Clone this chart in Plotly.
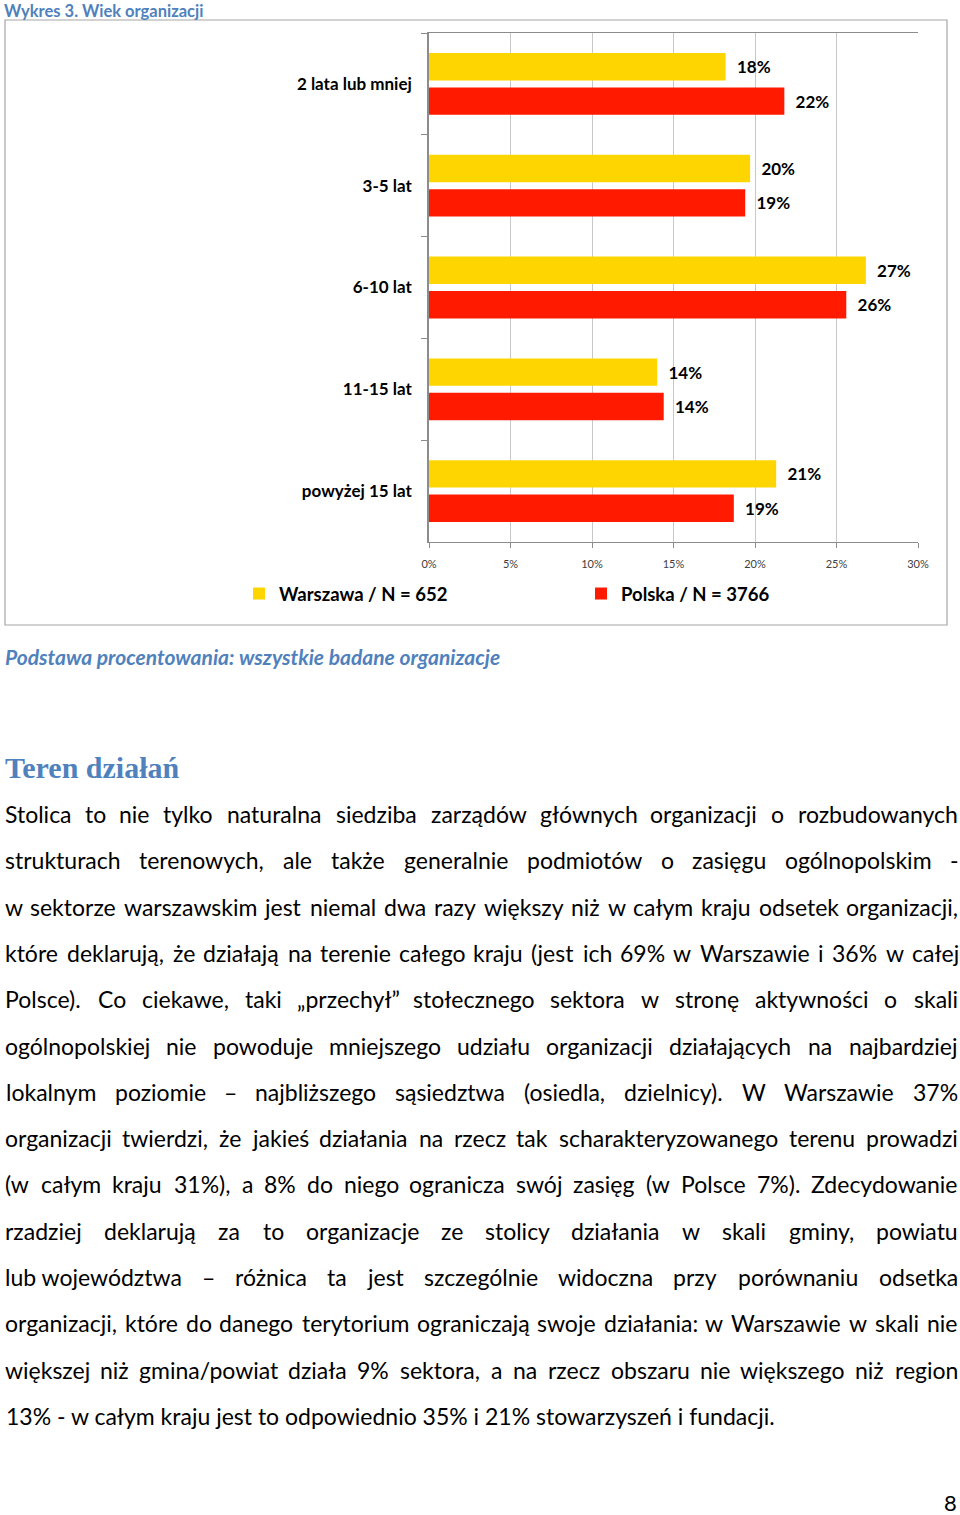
import plotly.graph_objects as go

# ---------------- data ----------------
categories = ["2 lata lub mniej", "3-5 lat", "6-10 lat", "11-15 lat", "powyżej 15 lat"]
warszawa = [18.2, 19.7, 26.8, 14.0, 21.3]
polska = [21.8, 19.4, 25.6, 14.4, 18.7]
warszawa_labels = ["18%", "20%", "27%", "14%", "21%"]
polska_labels = ["22%", "19%", "26%", "14%", "19%"]
series_names = ["Warszawa / N = 652", "Polska / N = 3766"]
x_tick_values = [0, 5, 10, 15, 20, 25, 30]
x_tick_labels = ["0%", "5%", "10%", "15%", "20%", "25%", "30%"]

chart_title = "Wykres 3. Wiek organizacji"
base_note = "Podstawa procentowania: wszystkie badane organizacje"
section_title = "Teren działań"
page_number = "8"
body_lines = [
    "Stolica to nie tylko naturalna siedziba zarządów głównych organizacji o rozbudowanych",
    "strukturach terenowych, ale także generalnie podmiotów o zasięgu ogólnopolskim -",
    "w sektorze warszawskim jest niemal dwa razy większy niż w całym kraju odsetek organizacji,",
    "które deklarują, że działają na terenie całego kraju (jest ich 69% w Warszawie i 36% w całej",
    "Polsce). Co ciekawe, taki „przechył” stołecznego sektora w stronę aktywności o skali",
    "ogólnopolskiej nie powoduje mniejszego udziału organizacji działających na najbardziej",
    "lokalnym poziomie – najbliższego sąsiedztwa (osiedla, dzielnicy). W Warszawie 37%",
    "organizacji twierdzi, że jakieś działania na rzecz tak scharakteryzowanego terenu prowadzi",
    "(w całym kraju 31%), a 8% do niego ogranicza swój zasięg (w Polsce 7%). Zdecydowanie",
    "rzadziej deklarują za to organizacje ze stolicy działania w skali gminy, powiatu",
    "lub\u00a0województwa – różnica ta jest szczególnie widoczna przy porównaniu odsetka",
    "organizacji, które do danego terytorium ograniczają swoje działania: w Warszawie w skali nie",
    "większej niż gmina/powiat działa 9% sektora, a na rzecz obszaru nie większego niż region",
    "13% - w całym kraju jest to odpowiednio 35% i 21% stowarzyszeń i fundacji.",
]

# ---------------- layout helpers ----------------
W, H = 960, 1515
L, R, T, B = 429, 918, 33, 542


def px_x(x):
    return (x - L) / (R - L)


def px_y(y):
    return 1 - (y - T) / (B - T)


YELLOW = "#FFD500"
RED = "#FF1A00"
BLUE = "#4F81BD"
BODY_FONT = "Lato"
BODY_SIZE = 23

# approximate Lato Regular advance widths (em)
CW = {
    'a': .51, 'b': .56, 'c': .46, 'd': .56, 'e': .52, 'f': .32, 'g': .50, 'h': .56, 'i': .24,
    'j': .24, 'k': .51, 'l': .24, 'm': .84, 'n': .56, 'o': .56, 'p': .56, 'q': .56, 'r': .37,
    's': .43, 't': .35, 'u': .56, 'v': .51, 'w': .77, 'x': .49, 'y': .51, 'z': .45, 'ł': .27,
    'ą': .51, 'ę': .52, 'ó': .56, 'ś': .43, 'ć': .46, 'ń': .56, 'ź': .45, 'ż': .45,
    'S': .52, 'W': 1.0, 'Z': .6, 'C': .66, 'P': .58, 'T': .57,
    '0': .58, '1': .58, '2': .58, '3': .58, '4': .58, '5': .58, '6': .58, '7': .58, '8': .58, '9': .58,
    '%': .80, ' ': .26, '\u00a0': .26, ',': .22, '.': .22, '(': .31, ')': .31, '-': .34, '–': .5,
    ':': .24, '/': .37, '„': .33, '”': .33,
}


def text_w(s, size=BODY_SIZE):
    return sum(CW.get(ch, 0.62) for ch in s) * size


fig = go.Figure()
for vals, labels, name, color in [
    (warszawa, warszawa_labels, series_names[0], YELLOW),
    (polska, polska_labels, series_names[1], RED),
]:
    fig.add_trace(go.Bar(
        y=categories, x=vals, name=name, orientation="h",
        marker=dict(color=color, line=dict(width=0)),
        text=labels, texttemplate="\u00a0\u00a0%{text}", textposition="outside",
        textfont=dict(family="Lato", size=17, color="black", weight="bold"),
        constraintext="none", cliponaxis=False, hoverinfo="skip",
    ))

annotations = []
annotations.append(dict(
    x=px_x(3), y=px_y(0), xref="paper", yref="paper", xanchor="left", yanchor="top",
    text=chart_title, showarrow=False, borderpad=0,
    font=dict(family="Lato", size=16.5, color=BLUE, weight="bold")))
annotations.append(dict(
    x=px_x(3), y=px_y(656), xref="paper", yref="paper", xanchor="left", yanchor="middle",
    text="<i>" + base_note + "</i>", showarrow=False,
    font=dict(family="Lato", size=21, color=BLUE, weight="bold")))
annotations.append(dict(
    x=px_x(3), y=px_y(767), xref="paper", yref="paper", xanchor="left", yanchor="middle",
    text=section_title, showarrow=False,
    font=dict(family="Liberation Serif", size=30, color=BLUE, weight="bold")))
annotations.append(dict(
    x=px_x(950), y=px_y(1502), xref="paper", yref="paper", xanchor="center", yanchor="middle",
    text=page_number, showarrow=False,
    font=dict(family=BODY_FONT, size=22, color="black")))

# body text: justified lines built word by word
line_y0, line_step = 814, 46.3
left_edge, right_edge = 5, 958
for i, line in enumerate(body_lines):
    ypx = line_y0 + i * line_step
    if i == len(body_lines) - 1:
        annotations.append(dict(
            x=px_x(left_edge - 1), y=px_y(ypx), xref="paper", yref="paper",
            xanchor="left", yanchor="middle", text=line, showarrow=False,
            font=dict(family=BODY_FONT, size=BODY_SIZE, color="black")))
        continue
    words = [w for w in line.split(" ") if w]
    widths = [text_w(w) for w in words]
    gap = (right_edge - left_edge - sum(widths)) / (len(words) - 1)
    cur = left_edge
    for w, wd in zip(words, widths):
        annotations.append(dict(
            x=px_x(cur + wd / 2), y=px_y(ypx), xref="paper", yref="paper",
            xanchor="center", yanchor="middle", text=w, showarrow=False,
            font=dict(family=BODY_FONT, size=BODY_SIZE, color="black")))
        cur += wd + gap

shapes = [dict(
    type="rect", xref="paper", yref="paper",
    x0=px_x(5), x1=px_x(947), y0=px_y(20), y1=px_y(625),
    line=dict(color="#A6A6A6", width=1.2), fillcolor="rgba(0,0,0,0)", layer="below")]

fig.update_layout(
    width=W, height=H,
    margin=dict(l=L, r=W - R, t=T, b=H - B, pad=0),
    paper_bgcolor="white", plot_bgcolor="white",
    barmode="group", bargap=0.324, bargroupgap=0.203,
    font=dict(family="Lato", color="black"),
    showlegend=True,
    legend=dict(
        orientation="h", x=px_x(239), xanchor="left", y=px_y(594), yanchor="middle",
        entrywidth=297, entrywidthmode="pixels", itemwidth=30,
        font=dict(family="Lato", size=18.5, color="black", weight="bold"),
        bgcolor="rgba(0,0,0,0)", traceorder="normal", itemclick=False),
    annotations=annotations,
    shapes=shapes,
    xaxis=dict(
        range=[0, 30], tickvals=x_tick_values, ticktext=x_tick_labels,
        showgrid=True, gridcolor="#C8C8C8", gridwidth=1, zeroline=False,
        showline=True, mirror=True, linecolor="#8C8C8C", linewidth=1,
        ticks="outside", ticklen=5, tickcolor="#8C8C8C", ticklabelstandoff=7,
        tickfont=dict(family="Lato", size=11, color="#404040"), fixedrange=True),
    yaxis=dict(
        type="category", categoryorder="array", categoryarray=categories,
        autorange="reversed", showgrid=False, zeroline=False,
        showline=True, linecolor="#8C8C8C", linewidth=1.5,
        ticks="outside", ticklen=6, tickcolor="#8C8C8C", tickson="boundaries",
        ticklabelstandoff=12,
        tickfont=dict(family="Lato", size=17, color="black", weight="bold"), fixedrange=True),
)

fig.write_html("out.html")
